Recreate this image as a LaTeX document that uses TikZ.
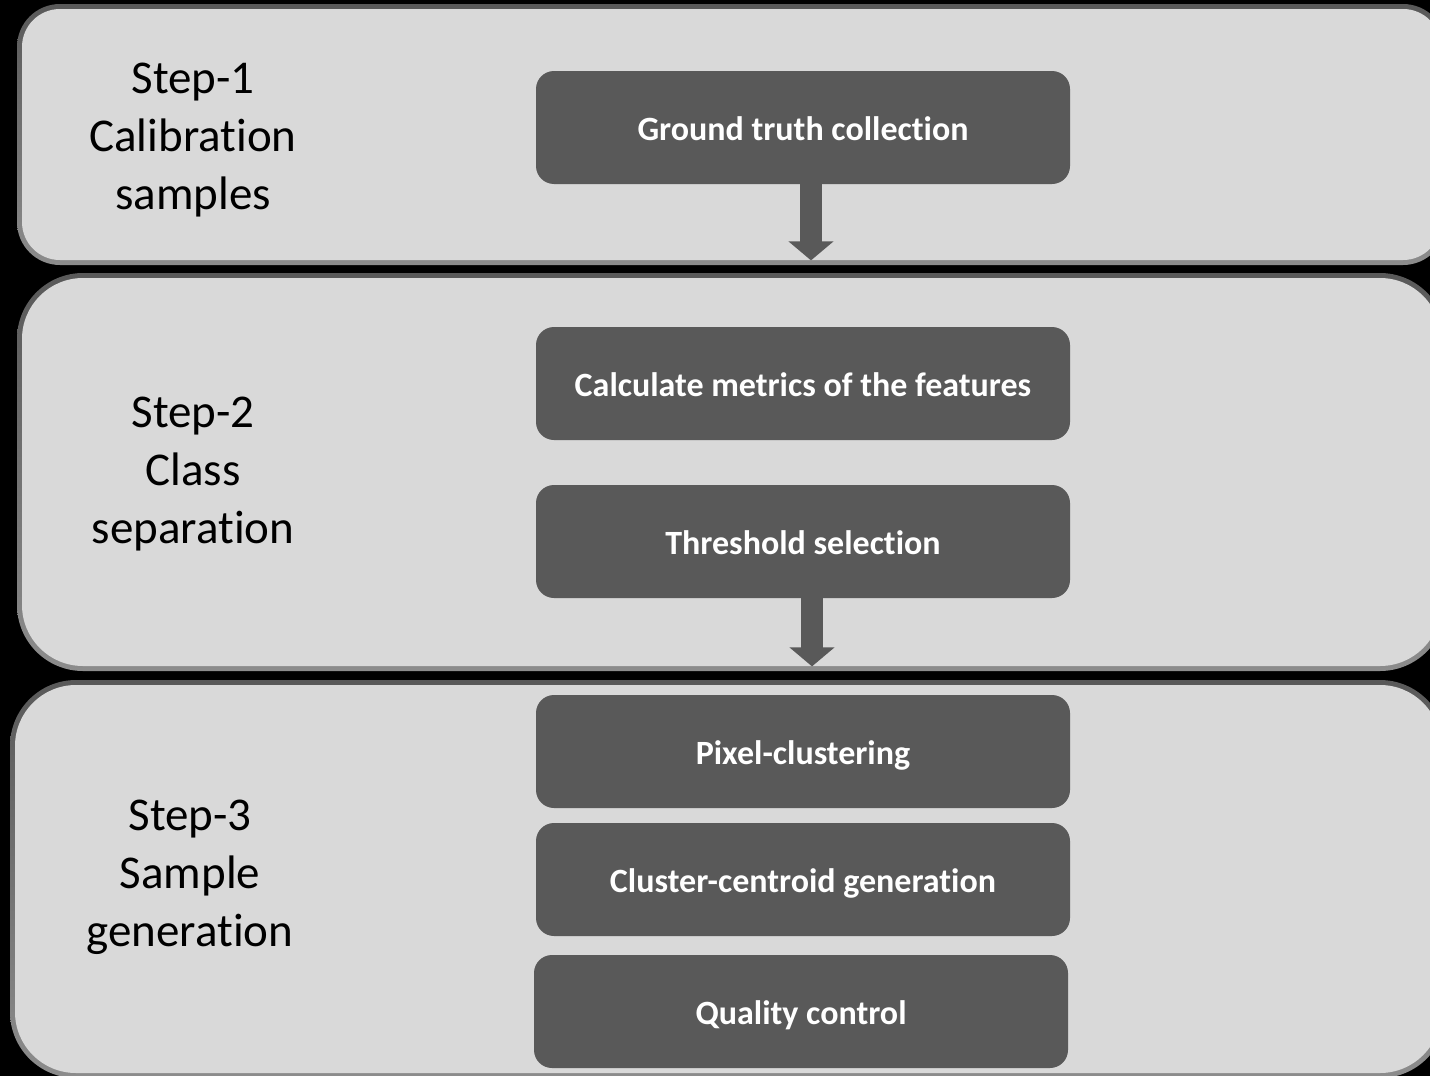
\documentclass[tikz,border=0pt]{standalone}
\usepackage{fontspec}
\setmainfont{Carlito}[Ligatures=NoCommon]
\usepackage{xcolor}
\usetikzlibrary{arrows.meta, positioning}

\definecolor{panelgray}{HTML}{D9D9D9}
\definecolor{boxgray}{HTML}{595959}
\definecolor{rimtop}{HTML}{595959}
\definecolor{rimbottom}{HTML}{8C8C8C}

\begin{document}
\begin{tikzpicture}[
    x=0.5pt, y=-0.5pt,
    rim/.style={rectangle, top color=rimtop, bottom color=rimbottom, inner sep=0pt},
    face/.style={rectangle, fill=panelgray, inner sep=0pt},
    stage/.style={align=center, font=\fontsize{23.5}{29}\selectfont, text=black},
    box/.style={rectangle, fill=boxgray, rounded corners=9pt, minimum width=267pt, minimum height=56.5pt, text height=16pt, text depth=3pt, font=\bfseries\fontsize{17}{20}\selectfont, text=white},
    flow/.style={draw=boxgray, line width=11pt, -{Triangle[width=22pt,length=9.5pt]}}
]
\fill[black] (0,0) rectangle (1430,1076);
\useasboundingbox (0,0) rectangle (1430,1076);

% Step 1
\node[rim, rounded corners=21.5pt, minimum width=714.5pt, minimum height=130.5pt] (rim1) at (731.5,134.5) {};
\node[face, rounded corners=19pt, minimum width=709.5pt, minimum height=125.5pt] (panel1) at (rim1) {};
\node[stage] (step1) at (193,140) {Step-1\\Calibration\\samples};
\node[box] (truth) at (803,127.5) {Ground truth collection};

% Step 2
\node[rim, rounded corners=33pt, minimum width=714.5pt, minimum height=199pt] (rim2) at (731.5,472) {};
\node[face, rounded corners=30.5pt, minimum width=709.5pt, minimum height=194pt] (panel2) at (rim2) {};
\node[stage] (step2) at (193,474) {Step-2\\Class\\separation};
\node[box] (metrics) at (803,383.5) {Calculate metrics of the features};
\node[box] (thresh) at (803,541.5) {Threshold selection};

% Step 3
\node[rim, rounded corners=33pt, minimum width=718pt, minimum height=199pt] (rim3) at (728,879) {};
\node[face, rounded corners=30.5pt, minimum width=713pt, minimum height=194pt] (panel3) at (rim3) {};
\node[stage] (step3) at (190,877) {Step-3\\Sample\\generation};
\node[box] (pixel) at (803,751.5) {Pixel-clustering};
\node[box] (centroid) at (803,879.5) {Cluster-centroid generation};
\node[box] (quality) at (801,1011.5) {Quality control};

% arrows between steps
\draw[flow] ([xshift=4pt]truth.south) -- ([xshift=4pt]truth.south |- panel1.south);
\draw[flow] ([xshift=4.5pt]thresh.south) -- ([xshift=4.5pt]thresh.south |- panel2.south);

\end{tikzpicture}
\end{document}
